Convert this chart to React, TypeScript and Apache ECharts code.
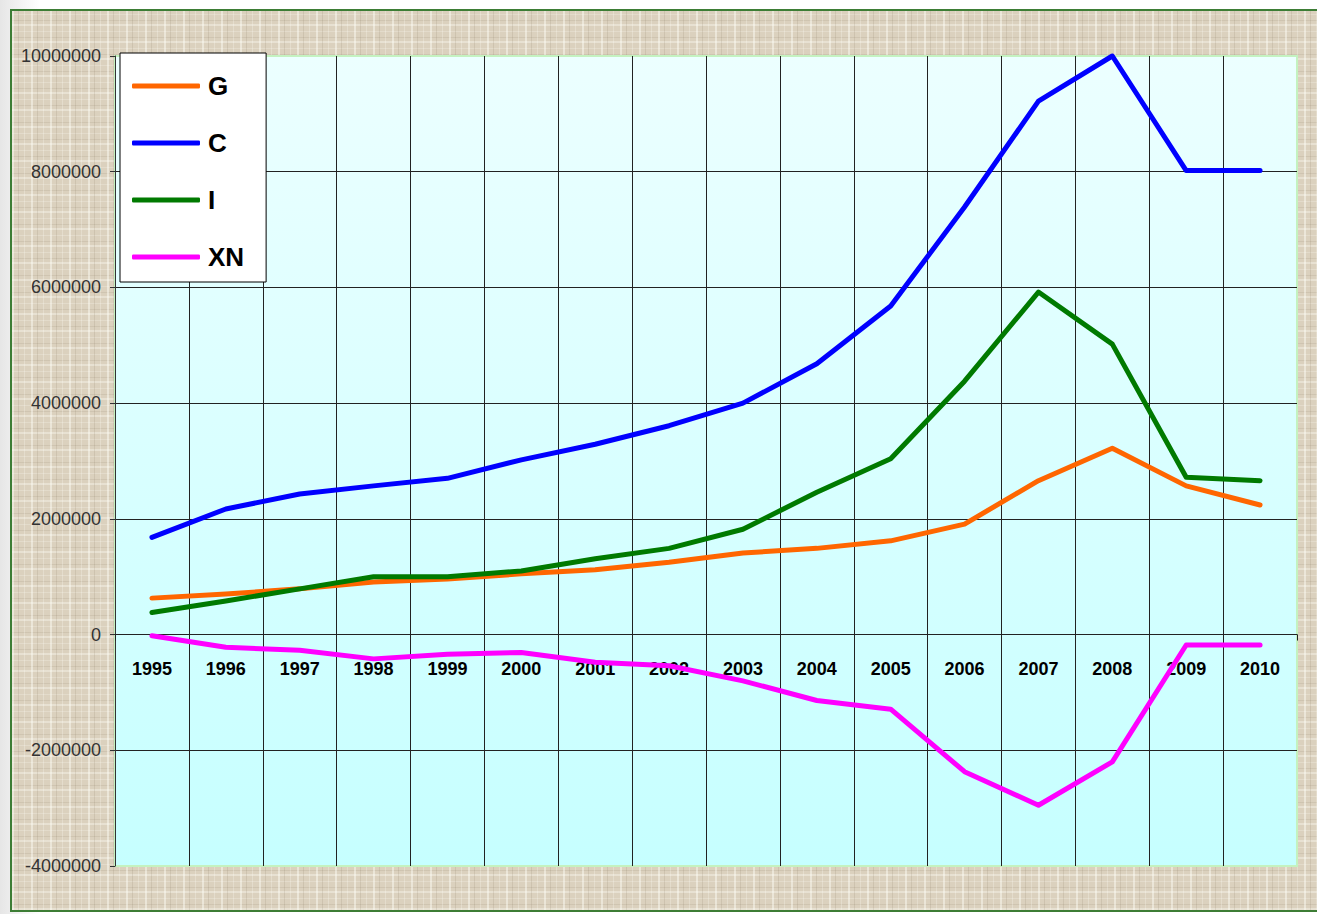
import React, { useEffect, useRef } from "react";
import * as echarts from "echarts";

const years = ["1995", "1996", "1997", "1998", "1999", "2000", "2001", "2002", "2003", "2004", "2005", "2006", "2007", "2008", "2009", "2010"];
const seriesG = [630000, 700000, 790000, 910000, 960000, 1050000, 1120000, 1250000, 1410000, 1490000, 1620000, 1910000, 2660000, 3220000, 2570000, 2240000];
const seriesC = [1680000, 2170000, 2430000, 2570000, 2700000, 3020000, 3290000, 3610000, 4000000, 4680000, 5680000, 7390000, 9220000, 10000000, 8020000, 8020000];
const seriesI = [380000, 580000, 790000, 1000000, 1000000, 1100000, 1310000, 1490000, 1820000, 2460000, 3040000, 4380000, 5920000, 5020000, 2720000, 2660000];
const seriesXN = [-20000, -220000, -270000, -420000, -340000, -310000, -480000, -540000, -800000, -1140000, -1290000, -2370000, -2950000, -2200000, -180000, -180000];
const names = ["G", "C", "I", "XN"];
const colors = ["#ff6600", "#0000ff", "#007a00", "#ff00ff"];

const Y_MIN = -4000000;
const Y_MAX = 10000000;
const GRID_TOP = 56;
const GRID_BOTTOM = 48;
const CHART_H = 914;

export default function App() {
  const ref = useRef<HTMLDivElement>(null);
  useEffect(() => {
    if (!ref.current) return;
    const chart = echarts.init(ref.current, null, { renderer: "svg" });
    const data = [seriesG, seriesC, seriesI, seriesXN];
    const gridH = CHART_H - GRID_TOP - GRID_BOTTOM;
    const zeroOffset = -(gridH * (0 - Y_MIN)) / (Y_MAX - Y_MIN);
    chart.setOption({
      animation: false,
      backgroundColor: "transparent",
      grid: {
        left: 115,
        right: 20,
        top: GRID_TOP,
        bottom: GRID_BOTTOM,
        show: true,
        backgroundColor: {
          type: "linear",
          x: 0, y: 0, x2: 0, y2: 1,
          colorStops: [
            { offset: 0, color: "#ecffff" },
            { offset: 1, color: "#c6ffff" },
          ],
        },
        borderColor: "#c4f2c0",
        borderWidth: 2,
      },
      legend: {
        orient: "vertical",
        left: 120,
        top: 53,
        icon: "roundRect",
        itemWidth: 68,
        itemHeight: 5,
        itemGap: 27,
        padding: [18, 22, 10, 12],
        backgroundColor: "#ffffff",
        borderColor: "#000000",
        borderWidth: 1,
        textStyle: {
          fontFamily: "Liberation Sans, Arial, sans-serif",
          fontSize: 26,
          fontWeight: "bold",
          color: "#000",
          lineHeight: 30,
          padding: [0, 0, 0, 3],
        },
        data: names,
      },
      xAxis: {
        type: "category",
        data: years,
        boundaryGap: true,
        position: "bottom",
        offset: zeroOffset,
        axisLine: { show: true, onZero: false, lineStyle: { color: "#222", width: 1 } },
        axisTick: { show: true, length: 6, lineStyle: { color: "#222" } },
        axisLabel: {
          margin: 25,
          fontFamily: "Liberation Sans, Arial, sans-serif",
          fontSize: 18,
          fontWeight: "bold",
          color: "#000",
        },
        splitLine: { show: true, showMinLine: false, showMaxLine: false, lineStyle: { color: "#222", width: 1 } },
      },
      yAxis: {
        type: "value",
        min: Y_MIN,
        max: Y_MAX,
        interval: 2000000,
        axisLine: { show: true, lineStyle: { color: "#333", width: 1 } },
        axisTick: { show: true, length: 5, lineStyle: { color: "#333" } },
        axisLabel: {
          margin: 14,
          fontFamily: "Liberation Sans, Arial, sans-serif",
          fontSize: 18,
          color: "#333",
          formatter: (v: number) => String(v),
        },
        splitLine: { show: true, showMinLine: false, showMaxLine: false, lineStyle: { color: "#222", width: 1 } },
      },
      series: names.map((n, i) => ({
        name: n,
        type: "line",
        data: data[i],
        symbol: "none",
        clip: false,
        color: colors[i],
        lineStyle: { color: colors[i], width: 5, cap: "round", join: "round" },
      })),
    });
    return () => chart.dispose();
  }, []);

  const texture: React.CSSProperties = {
    position: "fixed",
    left: 10,
    top: 9,
    width: 1330,
    height: 903,
    boxSizing: "border-box",
    border: "2px solid #3d7d35",
    backgroundColor: "#dbd1be",
    backgroundImage:
      "repeating-linear-gradient(90deg, rgba(255,255,248,0.45) 0px, rgba(255,255,248,0.45) 2px, transparent 2px, transparent 6px, rgba(120,105,80,0.14) 6px, rgba(120,105,80,0.14) 7px, transparent 7px, transparent 12px, rgba(255,255,248,0.25) 12px, rgba(255,255,248,0.25) 13px, transparent 13px, transparent 19px)," +
      "repeating-linear-gradient(0deg, rgba(255,255,248,0.35) 0px, rgba(255,255,248,0.35) 2px, transparent 2px, transparent 5px, rgba(120,105,80,0.12) 5px, rgba(120,105,80,0.12) 6px, transparent 6px, transparent 11px, rgba(255,255,248,0.22) 11px, rgba(255,255,248,0.22) 12px, transparent 12px, transparent 17px)",
  };

  return (
    <div style={{ position: "fixed", left: 0, top: 0, width: 1317, height: 914, background: "linear-gradient(90deg, #e6e6e6, #ffffff 40px)", overflow: "hidden" }}>
      <div style={texture} />
      <div ref={ref} style={{ position: "absolute", left: 0, top: 0, width: 1317, height: 914 }} />
    </div>
  );
}
